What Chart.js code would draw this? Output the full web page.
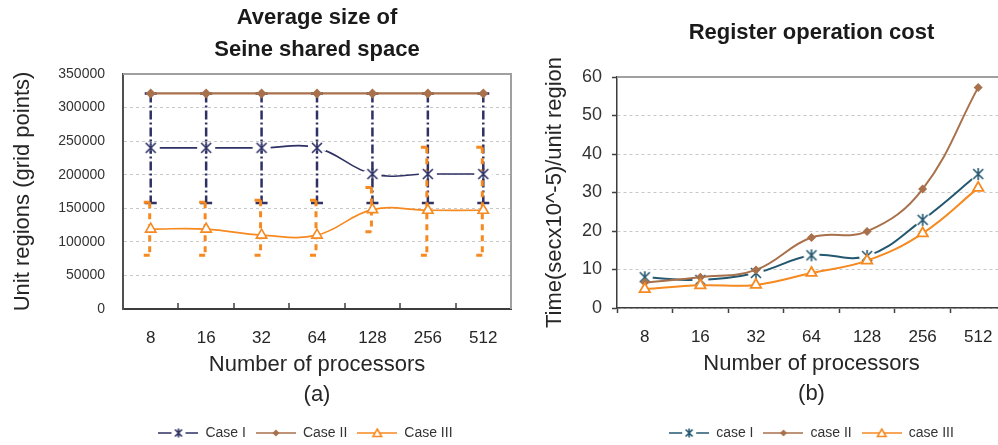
<!DOCTYPE html>
<html>
<head>
<meta charset="utf-8">
<script src="https://cdn.jsdelivr.net/npm/chart.js@4.4.1/dist/chart.umd.min.js"></script>
<style>
  html, body { margin: 0; padding: 0; background: #fff; overflow: hidden; }
  #wrap { position: relative; width: 998px; height: 445px; overflow: hidden; }
  canvas { position: absolute; top: 0; }
  #sizeChart { left: 0; }
  #costChart { left: 535px; }
</style>
</head>
<body>
<div id="wrap">
  <canvas id="sizeChart" width="611" height="445"></canvas>
  <canvas id="costChart" width="550" height="445"></canvas>
</div>
<script>
const processors = ['8', '16', '32', '64', '128', '256', '512'];

// (a) average size of the shared space, grid points
const sizeCaseOne   = [240000, 240000, 240000, 240000, 201000, 201000, 201000];
const sizeCaseTwo   = [321000, 321000, 321000, 321000, 321000, 321000, 321000];
const sizeCaseThree = [119000, 119000, 110000, 110000, 148000, 147000, 147000];

// spread of the per-run sizes (min / max)
const sizeCaseOneLow    = [158000, 158000, 158000, 158000, 158000, 158000, 158000];
const sizeCaseOneHigh   = [321000, 321000, 321000, 321000, 321000, 321000, 321000];
const sizeCaseThreeLow  = [80000, 80000, 80000, 80000, 115000, 80000, 80000];
const sizeCaseThreeHigh = [159000, 159000, 162000, 162000, 181000, 241000, 241000];

// (b) register cost, sec x 10^-5 per unit region
const costCaseOne   = [8.0, 7.3, 9.1, 13.7, 13.5, 22.9, 34.8];
const costCaseTwo   = [6.6, 8.0, 9.9, 18.3, 19.9, 30.9, 57.3];
const costCaseThree = [4.9, 5.9, 6.0, 9.1, 12.3, 19.4, 31.2];

const NAVY = '#2e3164';
const TEAL = '#245870';
const BROWN = '#a9714b';
const ORANGE = '#f6891f';
const GRID = '#c8c8c8';
const TEXT = '#262626';

Chart.defaults.font.family = '"Liberation Sans", Arial, sans-serif';
Chart.defaults.color = TEXT;

// marker / legend icon drawing
function makeCanvas(w, h) {
  const c = document.createElement('canvas');
  c.width = w; c.height = h;
  return c;
}

function drawStar(g, cx, cy, color, r) {
  g.strokeStyle = color;
  g.lineWidth = 1.6;
  g.beginPath();
  g.moveTo(cx - r, cy - r); g.lineTo(cx + r, cy + r);
  g.moveTo(cx + r, cy - r); g.lineTo(cx - r, cy + r);
  g.moveTo(cx, cy - r - 1); g.lineTo(cx, cy + r + 1);
  g.stroke();
}

function drawTriangle(g, cx, cy, color, r) {
  g.fillStyle = '#fff';
  g.strokeStyle = color;
  g.lineWidth = 1.6;
  g.beginPath();
  g.moveTo(cx, cy - r);
  g.lineTo(cx + r * 0.866, cy + r * 0.5);
  g.lineTo(cx - r * 0.866, cy + r * 0.5);
  g.closePath();
  g.fill();
  g.stroke();
}

function drawDiamond(g, cx, cy, color, r) {
  g.fillStyle = color;
  g.beginPath();
  g.moveTo(cx, cy - r); g.lineTo(cx + r, cy); g.lineTo(cx, cy + r); g.lineTo(cx - r, cy);
  g.closePath();
  g.fill();
}

// star marker with a white pad so the line stops short of it
function starMarker(color, pad) {
  const c = makeCanvas(22, 22);
  const g = c.getContext('2d');
  g.fillStyle = '#fff';
  if (pad === 'disc') {
    g.beginPath(); g.arc(11, 11, 8, 0, Math.PI * 2); g.fill();
  } else {
    g.fillRect(2, 8, 18, 6);
  }
  drawStar(g, 11, 11, color, 5);
  return c;
}

function legendIcon(kind, color) {
  const c = makeCanvas(40, 16);
  const g = c.getContext('2d');
  g.strokeStyle = color;
  g.lineWidth = 1.6;
  g.beginPath();
  if (kind === 'star') {
    g.moveTo(0, 8); g.lineTo(13, 8); g.moveTo(27, 8); g.lineTo(40, 8);
  } else {
    g.moveTo(0, 8); g.lineTo(40, 8);
  }
  g.stroke();
  if (kind === 'star') drawStar(g, 20, 8, color, 3.5);
  if (kind === 'diamond') drawDiamond(g, 20, 8, color, 3.5);
  if (kind === 'triangle') drawTriangle(g, 20, 9, color, 5);
  return c;
}

// frame, inner x ticks and min/max bars
const plotExtras = {
  id: 'plotExtras',
  beforeDatasetsDraw(chart, args, opts) {
    const {ctx, chartArea: a, scales: {x, y}} = chart;
    ctx.save();
    ctx.strokeStyle = opts.frameColor;
    ctx.lineWidth = opts.frameWidth;
    ctx.beginPath();
    ctx.moveTo(a.left, a.top);
    ctx.lineTo(a.right, a.top);
    ctx.lineTo(a.right, a.bottom);
    ctx.stroke();

    if (opts.innerTicks) {
      ctx.strokeStyle = '#404040';
      ctx.lineWidth = 1.5;
      ctx.beginPath();
      for (let i = 1; i < chart.data.labels.length; i++) {
        const px = Math.round(x.getPixelForValue(i - 0.5));
        ctx.moveTo(px, a.bottom);
        ctx.lineTo(px, a.bottom - 6);
      }
      ctx.stroke();
    }

    (opts.bars || []).forEach(bar => {
      ctx.strokeStyle = bar.color;
      ctx.lineWidth = bar.width;
      bar.low.forEach((lo, i) => {
        const px = x.getPixelForValue(i) + bar.shift;
        const yLo = y.getPixelForValue(lo);
        const yHi = y.getPixelForValue(bar.high[i]);
        ctx.setLineDash(bar.dash);
        ctx.beginPath();
        ctx.moveTo(px, yHi);
        ctx.lineTo(px, yLo);
        ctx.stroke();
        ctx.setLineDash([]);
        ctx.beginPath();
        ctx.moveTo(px - bar.capLeft, yLo); ctx.lineTo(px + bar.capRight, yLo);
        ctx.moveTo(px - bar.capLeft, yHi); ctx.lineTo(px + bar.capRight, yHi);
        ctx.stroke();
      });
    });
    ctx.restore();
  }
};

function legendOptions(icons, fullSize) {
  return {
    position: 'bottom',
    fullSize: fullSize,
    labels: {
      usePointStyle: true,
      pointStyleWidth: 40,
      padding: 10,
      color: '#333',
      font: { size: 14 },
      sort: (p, q) => p.datasetIndex - q.datasetIndex,
      generateLabels(chart) {
        const items = Chart.defaults.plugins.legend.labels.generateLabels(chart);
        items.forEach(it => { it.pointStyle = icons[it.datasetIndex]; });
        return items;
      }
    }
  };
}

new Chart(document.getElementById('sizeChart'), {
  type: 'line',
  data: {
    labels: processors,
    datasets: [{
      label: 'Case I',
      data: sizeCaseOne,
      borderColor: NAVY,
      borderWidth: 1.6,
      pointStyle: starMarker(NAVY, 'rect'),
      tension: 0.4,
      order: 3
    }, {
      label: 'Case II',
      data: sizeCaseTwo,
      borderColor: BROWN,
      backgroundColor: BROWN,
      borderWidth: 2.2,
      pointStyle: 'rectRot',
      pointRadius: 5,
      pointBorderWidth: 0,
      pointBackgroundColor: BROWN,
      tension: 0.4,
      order: 2
    }, {
      label: 'Case III',
      data: sizeCaseThree,
      borderColor: ORANGE,
      borderWidth: 1.6,
      pointStyle: 'triangle',
      pointRadius: 6,
      pointBorderWidth: 1.6,
      pointBackgroundColor: '#fff',
      tension: 0.4,
      order: 1
    }]
  },
  options: {
    responsive: false,
    animation: false,
    events: [],
    layout: { padding: { left: 0, right: 0, top: 0, bottom: -5 } },
    plugins: {
      title: {
        display: true,
        text: ['Average size of', 'Seine shared space'],
        fullSize: false,
        color: '#1a1a1a',
        font: { size: 22, weight: 'bold', lineHeight: 32 / 22 },
        padding: { top: 2, bottom: 8 }
      },
      legend: legendOptions([
        legendIcon('star', NAVY), legendIcon('diamond', BROWN), legendIcon('triangle', ORANGE)
      ], true),
      tooltip: { enabled: false },
      plotExtras: {
        frameColor: '#a0a0a0',
        frameWidth: 2,
        innerTicks: true,
        bars: [
          { low: sizeCaseOneLow, high: sizeCaseOneHigh, color: NAVY, width: 2.5,
            dash: [9, 3, 2, 3], shift: 0, capLeft: 6, capRight: 6 },
          { low: sizeCaseThreeLow, high: sizeCaseThreeHigh, color: ORANGE, width: 3,
            dash: [6, 5], shift: -1, capLeft: 6, capRight: 0 }
        ]
      }
    },
    scales: {
      x: {
        offset: true,
        grid: { display: false, drawTicks: false },
        border: { color: '#3c3c3c', width: 2 },
        ticks: { font: { size: 17 }, color: TEXT, padding: 19, maxRotation: 0, autoSkip: false },
        title: {
          display: true,
          text: ['Number of processors', '(a)'],
          color: TEXT,
          font: { size: 22, lineHeight: 30 / 22 },
          padding: { top: 2, bottom: 6 }
        },
        afterFit(scale) { scale.height = 107; }
      },
      y: {
        min: 0,
        max: 350000,
        grid: { color: GRID, lineWidth: 1, drawTicks: false },
        border: { color: '#505050', width: 2, dash: [3, 3] },
        ticks: { stepSize: 50000, font: { size: 14 }, color: '#333', padding: 18, callback: v => String(v) },
        title: {
          display: true,
          text: 'Unit regions (grid points)',
          color: TEXT,
          font: { size: 22 },
          padding: { top: 10, bottom: 0 }
        },
        afterFit(scale) { scale.width = 123; }
      },
      // empty right-hand strip, keeps the legend centred under both panels' gap
      spacer: {
        position: 'right',
        display: true,
        ticks: { display: false },
        grid: { display: false, drawTicks: false },
        border: { display: false },
        afterFit(scale) { scale.width = 100; }
      }
    }
  },
  plugins: [plotExtras]
});

new Chart(document.getElementById('costChart'), {
  type: 'line',
  data: {
    labels: processors,
    datasets: [{
      label: 'case I',
      data: costCaseOne,
      borderColor: TEAL,
      borderWidth: 2,
      pointStyle: starMarker(TEAL, 'disc'),
      tension: 0.4,
      order: 3
    }, {
      label: 'case II',
      data: costCaseTwo,
      borderColor: BROWN,
      backgroundColor: BROWN,
      borderWidth: 2,
      pointStyle: 'rectRot',
      pointRadius: 4.5,
      pointBorderWidth: 0,
      pointBackgroundColor: BROWN,
      tension: 0.4,
      order: 2
    }, {
      label: 'case III',
      data: costCaseThree,
      borderColor: ORANGE,
      borderWidth: 2,
      pointStyle: 'triangle',
      pointRadius: 6,
      pointBorderWidth: 1.8,
      pointBackgroundColor: '#fff',
      tension: 0.4,
      order: 1
    }]
  },
  options: {
    responsive: false,
    animation: false,
    events: [],
    layout: { padding: { left: 0, right: 79, top: 0, bottom: -5 } },
    plugins: {
      title: {
        display: true,
        text: 'Register operation cost',
        fullSize: false,
        color: '#1a1a1a',
        font: { size: 22, weight: 'bold', lineHeight: 32 / 22 },
        padding: { top: 17, bottom: 28 }
      },
      legend: legendOptions([
        legendIcon('star', TEAL), legendIcon('diamond', BROWN), legendIcon('triangle', ORANGE)
      ], false),
      tooltip: { enabled: false },
      plotExtras: { frameColor: '#a0a0a0', frameWidth: 2, innerTicks: false, bars: [] }
    },
    scales: {
      x: {
        offset: true,
        grid: { offset: true, drawOnChartArea: false, tickLength: 5, tickColor: '#404040', tickWidth: 1.5 },
        border: { color: '#3c3c3c', width: 1.5 },
        ticks: { font: { size: 17 }, color: TEXT, padding: 14, maxRotation: 0, autoSkip: false },
        title: {
          display: true,
          text: ['Number of processors', '(b)'],
          color: TEXT,
          font: { size: 22, lineHeight: 30 / 22 },
          padding: { top: 2, bottom: 7 }
        },
        afterFit(scale) { scale.height = 108; }
      },
      y: {
        min: 0,
        max: 60,
        grid: { color: GRID, lineWidth: 1, drawTicks: true, tickLength: 5, tickColor: '#404040', tickWidth: 1.5 },
        border: { color: '#3c3c3c', width: 1.5, dash: [3, 3] },
        ticks: { stepSize: 10, font: { size: 18 }, color: '#333', padding: 10 },
        title: {
          display: true,
          text: 'Time(secx10^-5)/unit region',
          color: TEXT,
          font: { size: 22 },
          padding: { top: 7, bottom: 0 }
        },
        afterFit(scale) { scale.width = 82; }
      }
    }
  },
  plugins: [plotExtras]
});
</script>
</body>
</html>
